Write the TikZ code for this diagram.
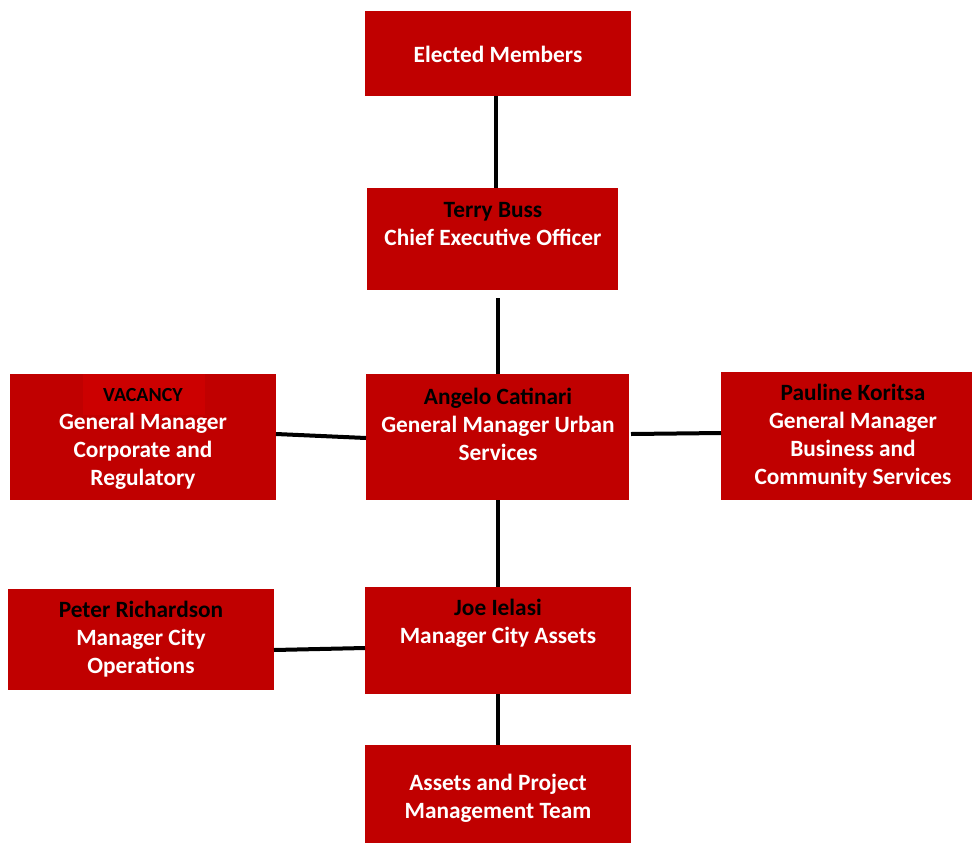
\documentclass[tikz,border=0pt]{standalone}
\usepackage{fontspec}
\setmainfont{Carlito}
\usetikzlibrary{positioning}
\definecolor{BoxRed}{HTML}{C00000}
\definecolor{PatchRed}{HTML}{CC0000}
\tikzset{
  box/.style={fill=BoxRed, draw=none, inner sep=0pt},
  txt/.style={align=center, text=white, font=\bfseries\fontsize{17.5}{21}\selectfont},
  link/.style={line width=3pt, black}
}
\newcommand{\who}[1]{\textcolor{black}{#1}}
\begin{document}
\begin{tikzpicture}[x=0.75pt, y=-0.75pt]
 \useasboundingbox (0,0) rectangle (972,843);

 %%%%%%%%%% Boxes %%%%%%%%%%
 \node[box, minimum width=266*0.75pt, minimum height=85*0.75pt] (em) at (498,53.5) {};
 \node[box, minimum width=251*0.75pt, minimum height=102*0.75pt] (ceo) at (492.5,239) {};
 \node[box, minimum width=263*0.75pt, minimum height=126*0.75pt] (gmus) at (497.5,437) {};
 \node[box, minimum width=266*0.75pt, minimum height=126*0.75pt] (gmcr) at (143,437) {};
 \node[box, minimum width=251*0.75pt, minimum height=128*0.75pt] (gmbc) at (846.5,436) {};
 \node[box, minimum width=266*0.75pt, minimum height=101*0.75pt] (mco) at (141,639.5) {};
 \node[box, minimum width=266*0.75pt, minimum height=107*0.75pt] (mca) at (498,640.5) {};
 \node[box, minimum width=266*0.75pt, minimum height=98*0.75pt] (apm) at (498,794) {};

 %%%%%%%%%% Vacancy patch %%%%%%%%%%
 \fill[PatchRed] (83,374) rectangle (205,415);

 %%%%%%%%%% Texts %%%%%%%%%%
 \node[txt] (emt) at (498,54) {Elected Members};
 \node[txt] (ceot) at (493,224) {\who{Terry Buss}\\Chief Executive Officer};
 \node[txt] (gmust) at (498,424) {\who{Angelo Catinari}\\General Manager Urban\\Services};
 \node[txt] (gmcrt) at (143,439) {\who{\fontsize{15}{21}\selectfont VACANCY}\\General Manager\\Corporate and\\Regulatory};
 \node[txt] (gmbct) at (853,436) {\who{Pauline Koritsa}\\General Manager\\Business and\\Community Services};
 \node[txt] (mcot) at (141,639) {\who{Peter Richardson}\\Manager City\\Operations};
 \node[txt] (mcat) at (498,623) {\who{Joe Ielasi}\\Manager City Assets};
 \node[txt] (apmt) at (498,798) {Assets and Project\\Management Team};

 %%%%%%%%%% Links %%%%%%%%%%
 \coordinate (c1) at (498,298);
 \coordinate (l1) at (276,434);
 \coordinate (l2) at (366,438);
 \coordinate (r1) at (631,434);
 \coordinate (r2) at (721,433);
 \coordinate (p1) at (274,650);
 \coordinate (p2) at (365,648);
 \draw[link] (em.south -| 496,0) -- (ceo.north -| 496,0);
 \draw[link] (c1) -- (gmus.north -| c1);
 \draw[link] (l1) -- (l2);
 \draw[link] (r1) -- (r2);
 \draw[link] (gmus.south -| c1) -- (mca.north -| c1);
 \draw[link] (p1) -- (p2);
 \draw[link] (mca.south -| c1) -- (apm.north -| c1);

\end{tikzpicture}
\end{document}
